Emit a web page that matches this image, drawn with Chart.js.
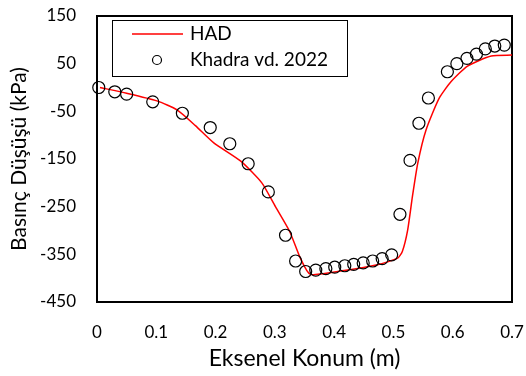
<!DOCTYPE html>
<html>
<head>
<meta charset="utf-8">
<script src="https://cdn.jsdelivr.net/npm/chart.js@4.4.1/dist/chart.umd.min.js"></script>
<style>
  html, body { margin: 0; padding: 0; background: #fff; }
  #wrap { width: 526px; height: 376px; }
</style>
</head>
<body>
<div id="wrap"><canvas id="chart" width="526" height="376"></canvas></div>
<script>
// HAD (CFD) curve
const hadX = [0.005, 0.05, 0.101, 0.135, 0.166, 0.197, 0.242, 0.278, 0.301, 0.325, 0.343, 0.360,
  0.417, 0.473, 0.507, 0.515, 0.524, 0.532, 0.541, 0.555, 0.577, 0.597, 0.625, 0.665, 0.700];
const hadY = [0, -12, -28, -47, -80, -116, -154, -200, -250, -302, -358, -392,
  -384, -372, -358, -344, -299, -229, -159, -89, -23, 12, 45, 66, 68];

// Khadra vd. 2022 measurements
const khX = [0.003, 0.030, 0.050, 0.094, 0.144, 0.191, 0.224, 0.255, 0.289, 0.318, 0.335, 0.352,
  0.369, 0.386, 0.401, 0.418, 0.433, 0.449, 0.465, 0.481, 0.497, 0.511, 0.528, 0.543,
  0.559, 0.591, 0.607, 0.624, 0.640, 0.655, 0.671, 0.687];
const khY = [0, -9, -14, -30, -54, -84, -118, -160, -219, -310, -364, -386,
  -383, -380, -377, -374, -371, -368, -364, -359, -351, -266, -153, -75,
  -22, 33, 50, 61, 70, 81, 87, 89];

const xTicks = [0, 0.1, 0.2, 0.3, 0.4, 0.5, 0.6, 0.7];
const yTicks = [-450, -350, -250, -150, -50, 50, 150];

const FONT = "Lato, 'Open Sans', sans-serif";

const frame = {
  id: 'frame',
  beforeDatasetsDraw(chart) {
    const { ctx, chartArea: a } = chart;
    ctx.save();
    ctx.strokeStyle = '#000';
    ctx.lineWidth = 2;
    ctx.strokeRect(a.left, a.top, a.right - a.left, a.bottom - a.top);
    ctx.restore();
  }
};

const legendBox = {
  id: 'legendBox',
  afterDraw(chart) {
    const ctx = chart.ctx;
    const x0 = 112, y0 = 20, w = 235, h = 56;
    ctx.save();
    ctx.fillStyle = '#fff';
    ctx.fillRect(x0, y0, w, h);
    ctx.strokeStyle = '#000';
    ctx.lineWidth = 1;
    ctx.strokeRect(x0 + 0.5, y0 + 0.5, w, h);
    ctx.strokeStyle = '#ff0000';
    ctx.lineWidth = 1.5;
    ctx.beginPath();
    ctx.moveTo(132, 34);
    ctx.lineTo(183, 34);
    ctx.stroke();
    ctx.strokeStyle = '#000';
    ctx.lineWidth = 1.2;
    ctx.beginPath();
    ctx.arc(157, 60, 4.5, 0, Math.PI * 2);
    ctx.stroke();
    ctx.fillStyle = '#000';
    ctx.font = "19px " + FONT;
    ctx.textBaseline = 'middle';
    ctx.fillText('HAD', 190, 34);
    ctx.fillText('Khadra vd. 2022', 190, 60);
    ctx.restore();
  }
};

new Chart(document.getElementById('chart'), {
  type: 'scatter',
  data: {
    datasets: [
      {
        label: 'HAD',
        data: hadX.map((x, i) => ({ x: x, y: hadY[i] })),
        showLine: true,
        borderColor: '#ff0000',
        borderWidth: 1.5,
        pointRadius: 0,
        tension: 0.2,
        order: 2
      },
      {
        label: 'Khadra vd. 2022',
        data: khX.map((x, i) => ({ x: x, y: khY[i] })),
        showLine: false,
        pointRadius: 6,
        pointBorderWidth: 1.2,
        pointBorderColor: '#000',
        pointBackgroundColor: 'rgba(0,0,0,0)',
        clip: false,
        order: 1
      }
    ]
  },
  options: {
    responsive: false,
    animation: false,
    layout: { padding: { left: 0, top: 16, right: 14, bottom: 0 } },
    plugins: { legend: { display: false }, tooltip: { enabled: false } },
    scales: {
      x: {
        type: 'linear',
        min: 0,
        max: 0.7,
        afterFit(s) { s.height = 74; s.paddingLeft = 0; s.paddingRight = 0; },
        afterBuildTicks(s) { s.ticks = xTicks.map(v => ({ value: v })); },
        grid: { display: false, drawTicks: false },
        border: { display: false },
        ticks: {
          padding: 20,
          color: '#000',
          font: { family: FONT, size: 17 },
          callback: v => String(Number(v.toFixed(1)))
        },
        title: {
          display: true,
          text: 'Eksenel Konum (m)',
          color: '#000',
          font: { family: FONT, size: 23 },
          padding: { top: 0, bottom: 4 }
        }
      },
      y: {
        type: 'linear',
        min: -450,
        max: 150,
        afterFit(s) { s.width = 97; s.paddingTop = 0; s.paddingBottom = 0; },
        afterBuildTicks(s) { s.ticks = yTicks.map(v => ({ value: v })); },
        grid: { display: false, drawTicks: false },
        border: { display: false },
        ticks: {
          padding: 21,
          color: '#000',
          font: { family: FONT, size: 17 }
        },
        title: {
          display: true,
          text: 'Basınç Düşüşü (kPa)',
          color: '#000',
          font: { family: FONT, size: 21 },
          padding: { top: 7, bottom: 0 }
        }
      }
    }
  },
  plugins: [frame, legendBox]
});
</script>
</body>
</html>
